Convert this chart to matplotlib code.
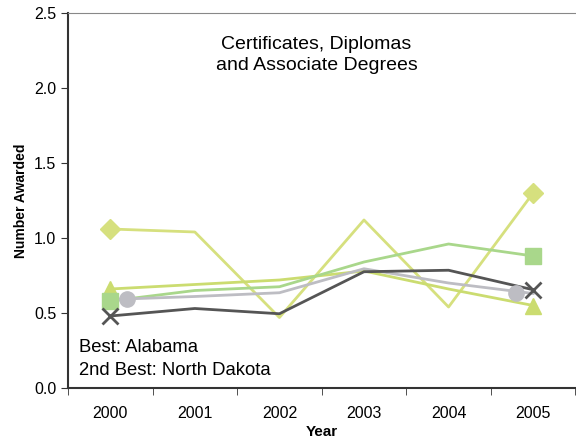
import numpy as np
import matplotlib.pyplot as plt
from matplotlib.ticker import FixedLocator

plt.rcParams['font.family'] = ['Liberation Sans', 'DejaVu Sans']

years = ['2000', '2001', '2002', '2003', '2004', '2005']

diamond_vals = [1.06, 1.04, 0.47, 1.12, 0.54, 1.30]
triangle_vals = [0.66, 0.69, 0.72, 0.78, 0.66, 0.55]
square_vals = [0.58, 0.65, 0.675, 0.84, 0.96, 0.88]
circle_vals = [0.59, 0.61, 0.635, 0.795, 0.70, 0.63]
cross_vals = [0.48, 0.53, 0.495, 0.775, 0.785, 0.655]

series = [
    (diamond_vals, '#d6e07e', 'D', 10),
    (triangle_vals, '#cbdc70', '^', 12),
    (square_vals, '#a9d78b', 's', 12),
    (circle_vals, '#bdbdc3', 'o', 11),
    (cross_vals, '#555555', 'x', 11),
]

fig = plt.figure(figsize=(5.76, 4.46), dpi=100)
ax = fig.add_axes([0.118, 0.130, 0.881, 0.841])

x = np.arange(len(years))
for vals, col, mk, ms in series:
    ax.plot(x, vals, color=col, lw=2, zorder=2)
    xs = [x[0], x[-1]]
    if mk == 'o':
        xs = [x[0] + 0.2, x[-1] - 0.2]
    kw = dict(mew=2) if mk == 'x' else dict(mec=col)
    ax.plot(xs, [vals[0], vals[-1]], ls='none', marker=mk, ms=ms, color=col, zorder=3, **kw)

ax.set_xlim(-0.5, 5.5)
ax.set_ylim(0, 2.5)
ax.set_yticks([0, 0.5, 1.0, 1.5, 2.0, 2.5])
ax.set_yticklabels(['0.0', '0.5', '1.0', '1.5', '2.0', '2.5'], fontsize=11.5)
ax.set_xticks(x)
ax.set_xticklabels(years, fontsize=11.5)
ax.xaxis.set_minor_locator(FixedLocator(np.arange(-0.5, 5.6, 1)))
ax.tick_params(axis='x', which='major', length=0, pad=13)
ax.tick_params(axis='x', which='minor', length=5, direction='out', color='#333333')
ax.tick_params(axis='y', length=5, direction='out', color='#333333')

ax.spines['right'].set_visible(False)
ax.spines['top'].set_color('#888888')
ax.spines['left'].set_color('#333333')
ax.spines['bottom'].set_color('#333333')
ax.spines['left'].set_linewidth(1.5)
ax.spines['bottom'].set_linewidth(1.5)

ax.set_xlabel('Year', fontsize=11, fontweight='bold', labelpad=3)
ax.set_ylabel('Number Awarded', fontsize=10, fontweight='bold')

ax.text(0.49, 0.887, 'Certificates, Diplomas\nand Associate Degrees', transform=ax.transAxes,
        ha='center', va='center', fontsize=14, linespacing=1.3)
ax.text(0.022, 0.107, 'Best: Alabama', transform=ax.transAxes, fontsize=13.3, va='center')
ax.text(0.022, 0.048, '2nd Best: North Dakota', transform=ax.transAxes, fontsize=13.3, va='center')

fig.savefig('out.png', dpi=100)
